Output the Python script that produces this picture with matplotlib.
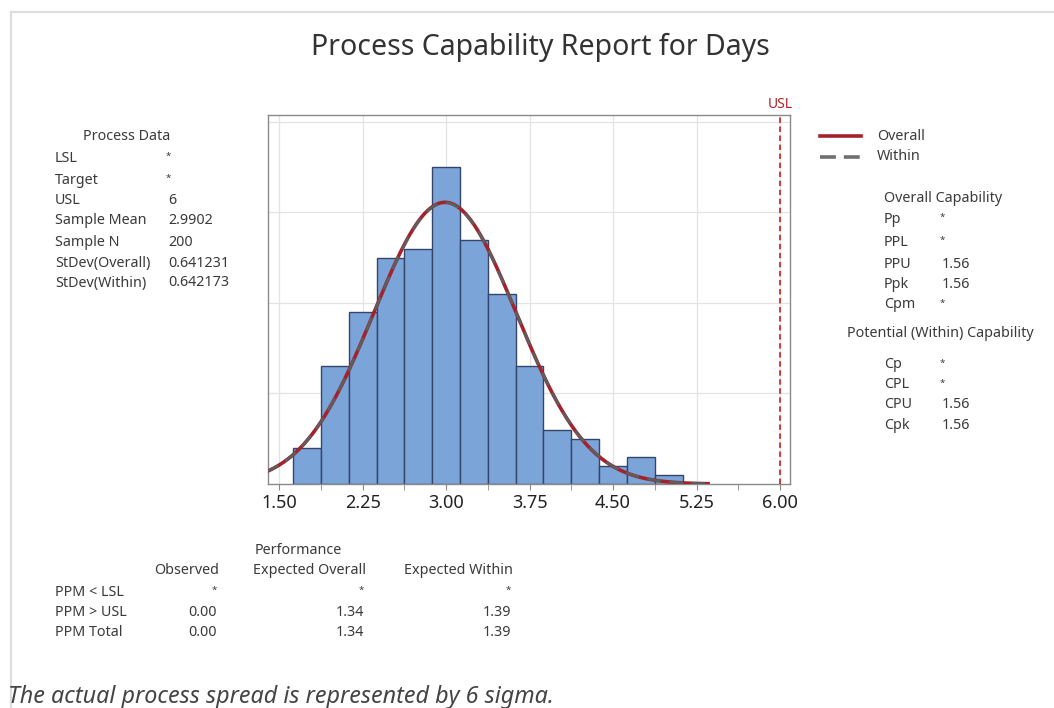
import numpy as np
import matplotlib.pyplot as plt
from matplotlib.lines import Line2D

plt.rcParams['font.family'] = ['Noto Sans', 'DejaVu Sans']

# histogram of Days: bin edges every 0.25 starting at 1.625
bin_start = 1.625
bin_width = 0.25
counts = [4, 13, 19, 25, 26, 35, 27, 21, 13, 6, 5, 2, 3, 1]

usl = 6.0
sample_mean = 2.9902
sample_n = 200
sd_overall = 0.641231
sd_within = 0.642173

process_labels = ['LSL', 'Target', 'USL', 'Sample Mean', 'Sample N', 'StDev(Overall)', 'StDev(Within)']
process_values = ['*', '*', '6', '2.9902', '200', '0.641231', '0.642173']

overall_labels = ['Pp', 'PPL', 'PPU', 'Ppk', 'Cpm']
overall_values = ['*', '*', '1.56', '1.56', '*']
within_labels = ['Cp', 'CPL', 'CPU', 'Cpk']
within_values = ['*', '*', '1.56', '1.56']

perf_cols = ['Observed', 'Expected Overall', 'Expected Within']
perf_rows = ['PPM < LSL', 'PPM > USL', 'PPM Total']
perf_values = [['*', '*', '*'],
               ['0.00', '1.34', '1.39'],
               ['0.00', '1.34', '1.39']]

xticks = [1.50, 2.25, 3.00, 3.75, 4.50, 5.25, 6.00]

W, H = 1054, 708
fig = plt.figure(figsize=(W / 100, H / 100), dpi=100)
fig.patch.set_facecolor('white')

TXT = '#3a3a3a'
FS = 10.3


def fx(x):
    return x / W


def fy(y):
    return 1 - y / H


def put(x, y, s, ha='left', **kw):
    # missing values are shown as a small raised star
    if s == '*':
        fig.text(fx(x), fy(y - 2), s, fontsize=7, color=TXT, ha=ha, va='center', **kw)
    else:
        fig.text(fx(x), fy(y), s, fontsize=FS, color=TXT, ha=ha, va='center', **kw)


# panel border on the left and top
fig.add_artist(Line2D([fx(11), fx(11)], [fy(12), 0], color='#dddddd', lw=1.5))
fig.add_artist(Line2D([fx(11), 1], [fy(12), fy(12)], color='#dddddd', lw=1.5))

ax = fig.add_axes([fx(268), fy(484), fx(790) - fx(268), fy(115) - fy(484)])

counts = np.array(counts)
edges = bin_start + bin_width * np.arange(len(counts) + 1)
centers = (edges[:-1] + edges[1:]) / 2
density = counts / (sample_n * bin_width)
ax.bar(centers, density, width=bin_width, color='#7ba4d9', edgecolor='#35456a',
       linewidth=1.0, zorder=2)

xs = np.linspace(1.38, 5.37, 400)


def normal_pdf(x, mu, sd):
    return np.exp(-0.5 * ((x - mu) / sd) ** 2) / (sd * np.sqrt(2 * np.pi))


ax.plot(xs, normal_pdf(xs, sample_mean, sd_overall), color='#a3222b', lw=2.6, zorder=3,
        solid_capstyle='butt')
ax.plot(xs, normal_pdf(xs, sample_mean, sd_within), color='#5e5e5e', lw=2.0, zorder=4,
        dashes=(5, 3))

ax.axvline(usl, color='#c8302c', lw=1.3, ls=(0, (3, 2)), zorder=3)
ax.text(usl, 0.822, 'USL', color='#b0242a', fontsize=10, ha='center', va='bottom',
        transform=ax.transData)

ax.set_xlim(1.40, 6.09)
ax.set_ylim(0, 0.815)
ax.set_xticks(xticks)
ax.set_xticklabels([f'{t:.2f}' for t in xticks], fontsize=13, color='#222222')
ax.set_xticks([t + 0.375 for t in xticks[:-1]], minor=True)
ax.set_yticks([0.2, 0.4, 0.6, 0.8])
ax.tick_params(axis='y', left=False, labelleft=False)
ax.tick_params(axis='x', which='both', direction='out', length=4, color='#888888', pad=3)
ax.grid(True, color='#e3e3e3', lw=0.9, zorder=0)
ax.set_axisbelow(True)
for s in ax.spines.values():
    s.set_color('#8a8a8a')
    s.set_linewidth(1.0)

fig.text(fx(540), fy(47), 'Process Capability Report for Days', fontsize=20.5,
         color='#333333', ha='center', va='center')

# process data block
put(127, 137, 'Process Data', ha='center')
row_y = [158, 180, 200, 221, 242, 263, 283]
for lab, val, y in zip(process_labels, process_values, row_y):
    put(55, y, lab)
    put(168, y, val, ha='left' if val != '*' else 'center')

# legend
fig.add_artist(Line2D([fx(820), fx(861)], [fy(136), fy(136)], color='#a3222b', lw=2.6))
fig.add_artist(Line2D([fx(820), fx(861)], [fy(157), fy(157)], color='#707070', lw=2.6,
                      dashes=(4.4, 2.2)))
put(877, 136, 'Overall')
put(877, 157, 'Within')

put(943, 199, 'Overall Capability', ha='center')
for lab, val, y in zip(overall_labels, overall_values, [219, 242, 264, 285, 305]):
    put(884, y, lab)
    put(942, y, val, ha='left' if val != '*' else 'center')

put(940, 334, 'Potential (Within) Capability', ha='center')
for lab, val, y in zip(within_labels, within_values, [365, 385, 405, 426]):
    put(884, y, lab)
    put(942, y, val, ha='left' if val != '*' else 'center')

# performance table
put(298, 550, 'Performance', ha='center')
col_right = [219, 366, 513]
for name, xr in zip(perf_cols, col_right):
    put(xr, 571, name, ha='right')
for r, (lab, y) in enumerate(zip(perf_rows, [592, 612, 632])):
    put(55, y, lab)
    for c, xr in enumerate(col_right):
        put(xr - 2, y, perf_values[r][c], ha='right')

fig.text(fx(8), fy(697), 'The actual process spread is represented by 6 sigma.',
         fontsize=16.8, style='italic', color='#444444', ha='left', va='center')

fig.savefig('out.png', dpi=100)
